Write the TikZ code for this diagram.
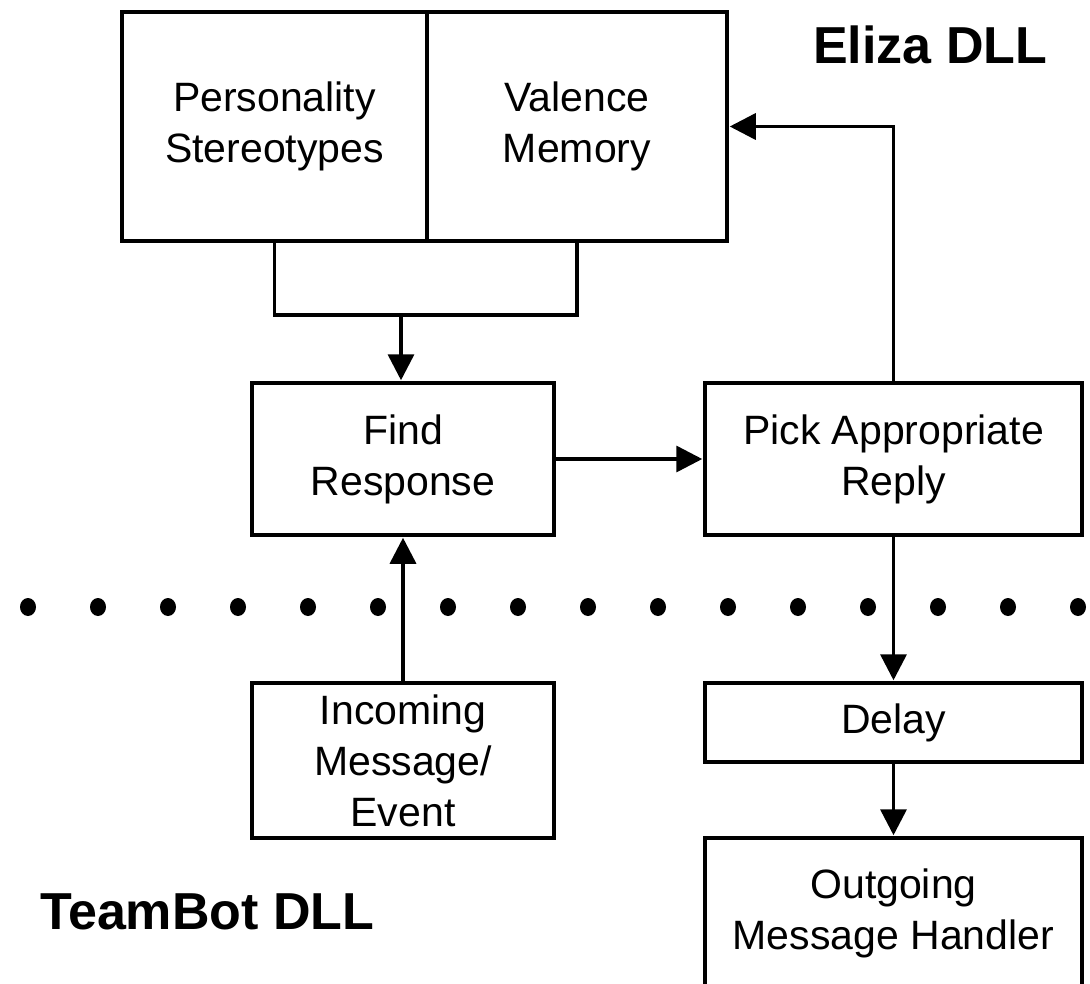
\documentclass[tikz,border=0pt]{standalone}
\usepackage{fontspec}
\setmainfont{Liberation Sans}
\usetikzlibrary{arrows.meta}
\begin{document}
\begin{tikzpicture}[x=1pt,y=-1pt,
  box/.style={draw,line width=3.5pt,inner sep=0pt,align=center,font=\fontsize{41}{51}\selectfont},
  conn/.style={line width=3.5pt},
  arr/.style={line width=3.5pt,-{Triangle[length=26pt,width=26pt]},shorten >=1pt},
  title/.style={font=\fontsize{52}{60}\selectfont\bfseries,inner sep=0pt},
  dot/.style={fill=black,draw=none}]
\clip (0,0) rectangle (1090,983);
\fill[white] (0,0) rectangle (1090,983);
% top box halves
\node[box,minimum width=305pt,minimum height=229pt] (ps) at (274.5,126.5) {Personality\\Stereotypes};
\node[box,minimum width=300pt,minimum height=229pt] (vm) at (577,126.5) {Valence\\Memory};
\node[title,anchor=west] (eliza) at (813,45) {Eliza DLL};
% middle row
\node[box,minimum width=302pt,minimum height=152pt] (find) at (403,459) {Find\\Response};
\node[box,minimum width=377pt,minimum height=152pt] (pick) at (893.5,459) {Pick Appropriate\\Reply};
% bottom
\node[box,minimum width=302pt,minimum height=155pt] (inc) at (403,760.5) {Incoming\\Message/\\Event};
\node[box,minimum width=377pt,minimum height=79pt] (delay) at (893.5,722.5) {Delay};
\node[box,minimum width=377pt,minimum height=150pt] (out) at (893.5,913) {Outgoing\\Message Handler};
\node[title,anchor=west] (team) at (40,912) {TeamBot DLL};
% connectors
\coordinate (join) at (401,315);
\draw[conn] (ps.south) -- (ps.south |- join) -| (vm.south);
\draw[arr] (join) -- (join |- find.north);
\draw[arr] (find.east) -- (pick.west);
\draw[arr] (pick.north) |- (vm.east);
\draw[arr] (inc.north) -- (find.south);
\draw[arr] (pick.south) -- (delay.north);
\draw[arr] (delay.south) -- (out.north);
% dotted separator
\foreach \k in {0,...,15} {
  \fill[dot] (28+70*\k,607) ellipse [x radius=8pt, y radius=9pt];
}
\end{tikzpicture}
\end{document}
